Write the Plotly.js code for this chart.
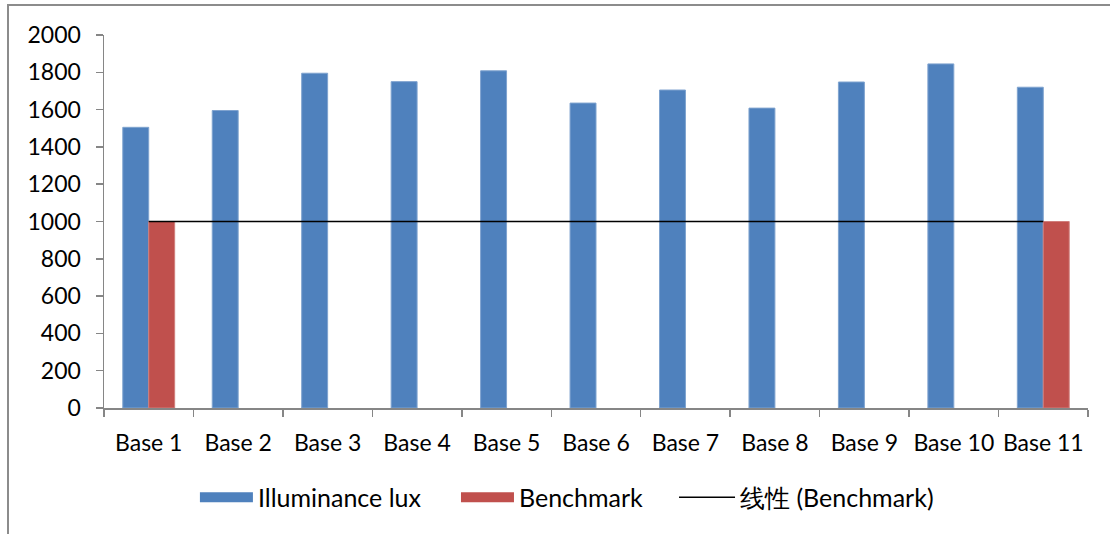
<!DOCTYPE html>
<html>
<head>
<meta charset="utf-8">
<script src="https://cdn.plot.ly/plotly-3.0.1.min.js"></script>
<style>
  html, body { margin: 0; padding: 0; width: 1110px; height: 534px; overflow: hidden; background: #fff; }
  #frame { position: absolute; left: 7px; top: 4px; width: 1300px; height: 800px; border: 2px solid #8c8c8c; box-sizing: border-box; }
  #chart { position: absolute; left: 0; top: 0; width: 1110px; height: 534px; }
</style>
</head>
<body>
<div id="frame"></div>
<div id="chart"></div>
<script>
const categories = ["Base 1", "Base 2", "Base 3", "Base 4", "Base 5", "Base 6", "Base 7", "Base 8", "Base 9", "Base 10", "Base 11"];
const illuminance = [1505, 1595, 1795, 1750, 1808, 1635, 1705, 1608, 1748, 1845, 1720];
const benchmark = [1000, null, null, null, null, null, null, null, null, null, 1000];
const seriesNames = ["Illuminance lux", "Benchmark", "线性 (Benchmark)"];
const colors = ["#4F81BD", "#C0504D", "#000000"];

// linear trendline fitted to the benchmark points
const pts = benchmark.map((v, i) => [i, v]).filter(p => p[1] !== null);
const n = pts.length;
const mx = pts.reduce((s, p) => s + p[0], 0) / n;
const my = pts.reduce((s, p) => s + p[1], 0) / n;
const sxx = pts.reduce((s, p) => s + (p[0] - mx) ** 2, 0);
const sxy = pts.reduce((s, p) => s + (p[0] - mx) * (p[1] - my), 0);
const slope = sxx ? sxy / sxx : 0;
const i0 = pts[0][0], i1 = pts[n - 1][0];
const trendX = [categories[i0], categories[i1]];
const trendY = [my + slope * (i0 - mx), my + slope * (i1 - mx)];

const font = "Lato, 'Open Sans', sans-serif";

const data = [
  { type: "bar", name: seriesNames[0], x: categories, y: illuminance, legendgroup: "a", showlegend: false,
    marker: { color: colors[0], line: { width: 1, color: "#7fa3cf" } } },
  { type: "bar", name: seriesNames[1], x: categories, y: benchmark, legendgroup: "b", showlegend: false,
    marker: { color: colors[1], line: { width: 1, color: "#d07e7c" } } },
  { type: "scatter", mode: "lines", name: seriesNames[2], x: trendX, y: trendY, legendgroup: "c", showlegend: false,
    line: { color: colors[2], width: 1.5 } },
  // legend entries (wide Excel-style swatches)
  { type: "scatter", mode: "lines", name: seriesNames[0], x: [null], y: [null], legendgroup: "a", legend: "legend",
    line: { color: colors[0], width: 15 } },
  { type: "scatter", mode: "lines", name: seriesNames[1], x: [null], y: [null], legendgroup: "b", legend: "legend2",
    line: { color: colors[1], width: 15 } },
  { type: "scatter", mode: "lines", name: seriesNames[2], x: [null], y: [null], legendgroup: "c", legend: "legend3",
    line: { color: colors[2], width: 1.5 } }
];

function leg(x, w) {
  return { orientation: "h", x: x, xanchor: "left", y: -0.24, yanchor: "middle",
           font: { family: font, size: 25, color: "#000" }, itemwidth: w,
           bgcolor: "rgba(0,0,0,0)", borderwidth: 0 };
}

const layout = {
  width: 1110, height: 534,
  margin: { l: 104, r: 22, t: 35, b: 126 },
  paper_bgcolor: "rgba(0,0,0,0)",
  plot_bgcolor: "rgba(0,0,0,0)",
  font: { family: font, size: 23, color: "#000" },
  barmode: "group",
  bargap: 0.42,
  bargroupgap: 0,
  showlegend: true,
  legend: leg(0.0924, 53),
  legend2: leg(0.3577, 53),
  legend3: leg(0.5793, 56),
  xaxis: {
    type: "category", showline: true, linecolor: "#868686", linewidth: 1.5,
    ticks: "outside", tickson: "boundaries", ticklen: 7, tickcolor: "#868686", tickwidth: 1.5,
    showgrid: false, zeroline: false, ticklabelstandoff: 14, tickangle: 0,
    tickfont: { family: font, size: 23, color: "#000" }
  },
  yaxis: {
    range: [0, 2000], dtick: 200, tick0: 0, showline: true, linecolor: "#868686", linewidth: 1.5,
    ticks: "outside", ticklen: 7, tickcolor: "#868686", tickwidth: 1.5,
    showgrid: false, zeroline: false, ticklabelstandoff: 10,
    tickfont: { family: font, size: 23, color: "#000" }
  }
};

Plotly.newPlot("chart", data, layout, { displayModeBar: false, staticPlot: true });
</script>
</body>
</html>
